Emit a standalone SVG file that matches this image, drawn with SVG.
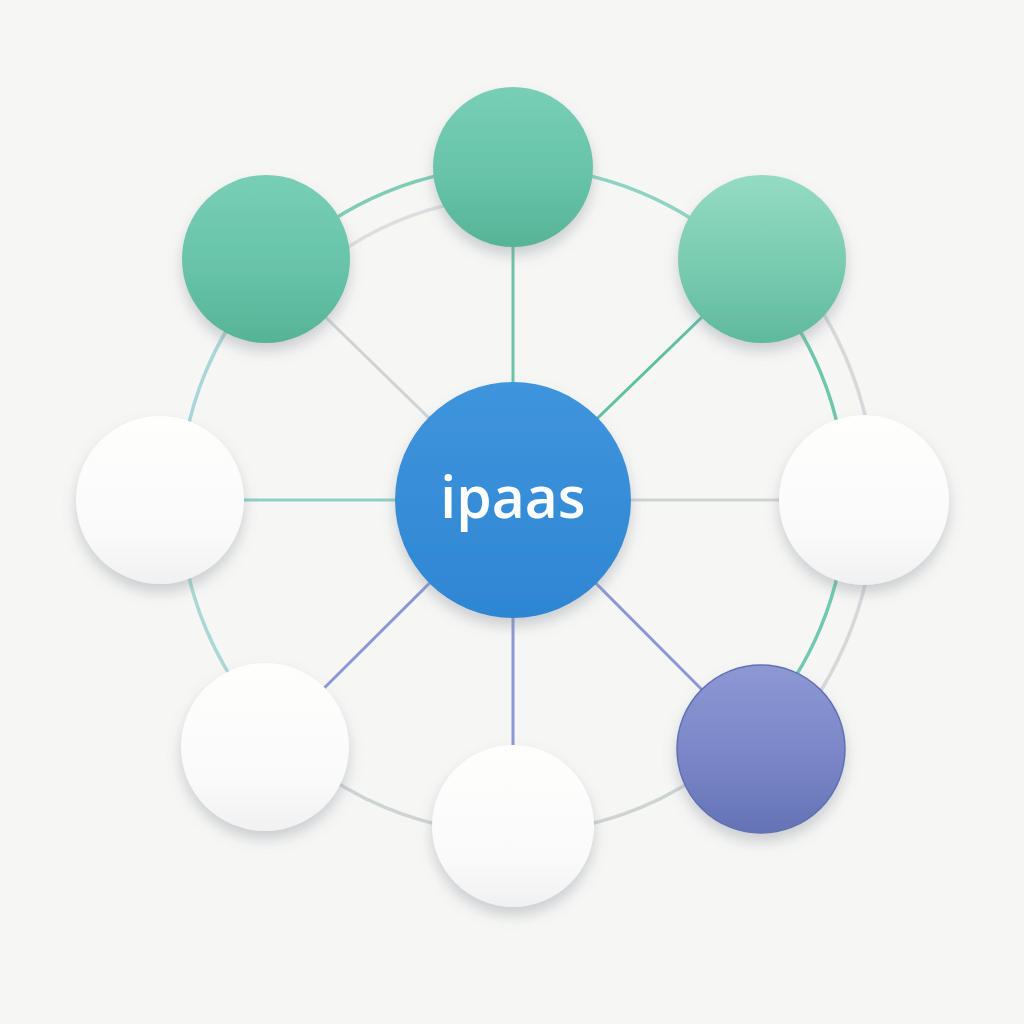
<svg xmlns="http://www.w3.org/2000/svg" width="1024" height="1024" viewBox="0 0 1024 1024">
  <defs>
    <filter id="shadow" x="-30%" y="-30%" width="160%" height="170%">
      <feDropShadow dx="0" dy="8" stdDeviation="7" flood-color="#858a92" flood-opacity="0.38"/>
    </filter>
    <linearGradient id="gBlue" x1="0" y1="0" x2="0" y2="1">
      <stop offset="0" stop-color="#3f95dc"/>
      <stop offset="1" stop-color="#2e86d3"/>
    </linearGradient>
    <linearGradient id="gGreen" x1="0" y1="0" x2="0" y2="1">
      <stop offset="0" stop-color="#78cfb5"/>
      <stop offset="0.6" stop-color="#66c2a7"/>
      <stop offset="1" stop-color="#57b396"/>
    </linearGradient>
    <linearGradient id="gGreenLight" x1="0" y1="0" x2="0" y2="1">
      <stop offset="0" stop-color="#95dbc3"/>
      <stop offset="0.6" stop-color="#76c9ae"/>
      <stop offset="1" stop-color="#5fb99c"/>
    </linearGradient>
    <linearGradient id="gPurple" x1="0" y1="0" x2="0" y2="1">
      <stop offset="0" stop-color="#8d98d4"/>
      <stop offset="0.6" stop-color="#7884c6"/>
      <stop offset="1" stop-color="#6373b6"/>
    </linearGradient>
    <linearGradient id="gWhite" x1="0" y1="0" x2="0" y2="1">
      <stop offset="0" stop-color="#fefefd"/>
      <stop offset="0.7" stop-color="#fafafa"/>
      <stop offset="1" stop-color="#f1f1f1"/>
    </linearGradient>
  </defs>
  <style>
    .ring { fill: none; stroke-width: 3.5; stroke-linecap: round; }
    .spoke { stroke-width: 3; }
    .node { filter: url(#shadow); }
    .label { font-family: "Open Sans", "Liberation Sans", sans-serif; font-size: 57px; font-weight: 600; fill: #ffffff; text-anchor: middle; }
  </style>
  <rect width="1024" height="1024" fill="#f6f6f5"/>

  <g id="connectors">
    <path class="ring" stroke="#7fcdb7" d="M277.5,264.5 A333,333 0 0 1 513,167"/>
    <path class="ring" stroke="#8fd4c3" d="M513,167 A333,333 0 0 1 748.5,264.5"/>
    <path class="ring" stroke="#6dc7ad" d="M748.5,264.5 A333,333 0 0 1 846,500"/>
    <path class="ring" stroke="#72c9b1" d="M846,500 A333,333 0 0 1 748.5,735.5"/>
    <path class="ring" stroke="#d0d3d5" d="M748.5,735.5 A333,333 0 0 1 513,833"/>
    <path class="ring" stroke="#d0d3d5" d="M513,833 A333,333 0 0 1 277.5,735.5"/>
    <path class="ring" stroke="#a9d9d5" d="M277.5,735.5 A333,333 0 0 1 180,500"/>
    <path class="ring" stroke="#a9d6d8" d="M180,500 A333,333 0 0 1 277.5,264.5"/>
    <path class="ring" stroke="#d6d8da" d="M769,244 A362,362 0 0 1 769,756"/>
    <path class="ring" stroke="#dcdedf" d="M299.5,286.5 A302,302 0 0 1 513,198"/>
    <line class="spoke" stroke="#6cc3a9" x1="513" y1="500" x2="513" y2="167"/>
    <line class="spoke" stroke="#5fbfa3" x1="513" y1="500" x2="762" y2="259"/>
    <line class="spoke" stroke="#d0d3d4" x1="513" y1="500" x2="266" y2="259"/>
    <line class="spoke" stroke="#90cdc6" x1="513" y1="500" x2="160" y2="500"/>
    <line class="spoke" stroke="#cfd3d5" x1="513" y1="500" x2="864" y2="500"/>
    <line class="spoke" stroke="#8c98d6" x1="513" y1="500" x2="265" y2="747"/>
    <line class="spoke" stroke="#8c98d6" x1="513" y1="500" x2="513" y2="826"/>
    <line class="spoke" stroke="#8c98d6" x1="513" y1="500" x2="761" y2="749"/>
  </g>

  <g id="node-top" class="node">
    <circle cx="513" cy="167" r="80" fill="url(#gGreen)"/>
  </g>
  <g id="node-top-left" class="node">
    <circle cx="266" cy="259" r="84" fill="url(#gGreen)"/>
  </g>
  <g id="node-top-right" class="node">
    <circle cx="762" cy="259" r="84" fill="url(#gGreenLight)"/>
  </g>
  <g id="node-left" class="node">
    <circle cx="160" cy="500" r="84" fill="url(#gWhite)"/>
  </g>
  <g id="node-right" class="node">
    <circle cx="864" cy="500" r="85" fill="url(#gWhite)"/>
  </g>
  <g id="node-bottom-left" class="node">
    <circle cx="265" cy="747" r="84" fill="url(#gWhite)"/>
  </g>
  <g id="node-bottom" class="node">
    <circle cx="513" cy="826" r="81" fill="url(#gWhite)"/>
  </g>
  <g id="node-bottom-right" class="node">
    <circle cx="761" cy="749" r="84" fill="url(#gPurple)" stroke="#6171b3" stroke-width="1.5"/>
  </g>
  <g id="node-center" class="node">
    <circle cx="513" cy="500" r="118" fill="url(#gBlue)"/>
    <text class="label" x="513" y="518">ipaas</text>
  </g>
</svg>
